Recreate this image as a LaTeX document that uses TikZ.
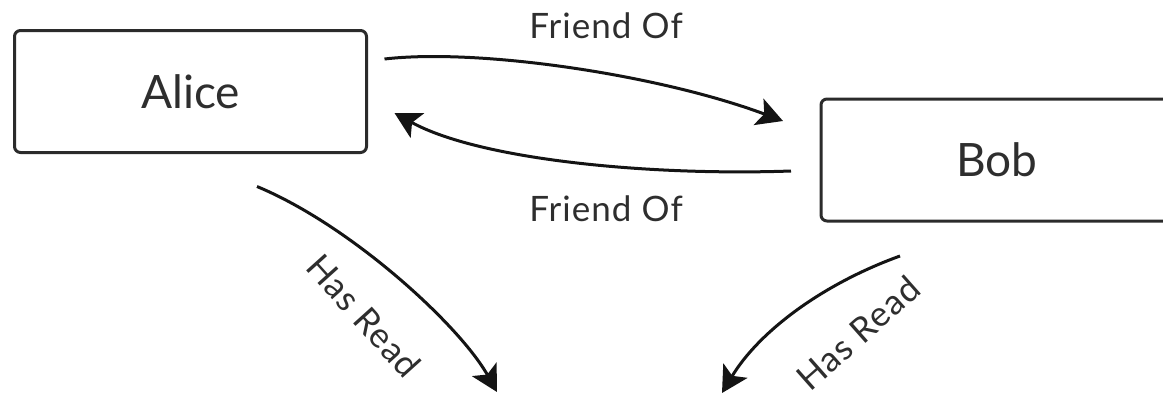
\documentclass[tikz,border=0pt]{standalone}
\usepackage{fontspec}
\setmainfont{Lato}
\newfontfamily\lblfont[LetterSpace=3]{Lato}
\usetikzlibrary{arrows.meta,calc}
\definecolor{boxline}{HTML}{2B2B2B}
\definecolor{txt}{HTML}{2E2E2E}
\begin{document}
\begin{tikzpicture}[x=0.5pt,y=-0.5pt,
  box/.style={draw=boxline, line width=1.5pt, rounded corners=3pt, minimum width=176pt, minimum height=61pt, inner sep=0pt, font=\fontsize{23}{27}\selectfont, text=txt},
  rel/.style={line width=1.5pt, draw=black!92, -{Stealth[length=13pt,width=14pt,inset=3pt]}},
  lbl/.style={font=\lblfont\fontsize{17.5}{20}\selectfont, text=txt, inner sep=0pt}]
\useasboundingbox (0,0) rectangle (1163,396);
\node[box] (alice) at (190.5,91.5) {Alice};
\node[box] (bob) at (997,160) {Bob};
\coordinate (hrA) at (497,392);
\coordinate (hrB) at (722,393);
\draw[rel] ($(alice.east)+(16.5,-32.5)$) .. controls (480,48) and (660,75) .. ($(bob.west)+(-36.5,-39)$);
\draw[rel] ($(bob.west)+(-28.5,11)$) .. controls (650,176) and (480,160) .. ($(alice.east)+(26.5,21.5)$);
\draw[rel] ($(alice.south)+(66.5,32.5)$) .. controls (352,226) and (460,326) .. (hrA);
\draw[rel] ($(bob.south)+(-97,33.5)$) .. controls (820,285) and (758,333) .. (hrB);
\node[lbl] (f1) at (606,26) {Friend Of};
\node[lbl] (f2) at (606,209) {Friend Of};
\node[lbl, rotate=-48] (h1) at (364,316) {Has Read};
\node[lbl, rotate=41.5] (h2) at (858,333) {Has Read};
\end{tikzpicture}
\end{document}
